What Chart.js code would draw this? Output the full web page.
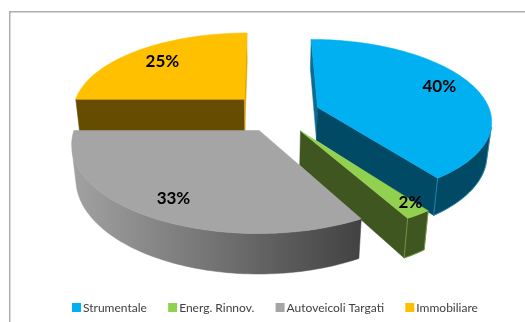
<!DOCTYPE html>
<html>
<head>
<meta charset="utf-8">
<title>Portafoglio</title>
<style>
  html, body { margin: 0; padding: 0; background: #fff; }
  canvas { display: block; }
</style>
<script src="https://cdn.jsdelivr.net/npm/chart.js@4"></script>
</head>
<body>
<canvas id="torta" width="525" height="322"></canvas>
<script>
const categories = ['Strumentale', 'Energ. Rinnov.', 'Autoveicoli Targati', 'Immobiliare'];
const quote = [40, 2, 33, 25];

const topColors = ['#00b0f0', '#92d050', '#a5a5a5', '#ffc000'];
const startFaceColors = ['#0a6c94', '#3f5621', '#666666', '#664c00'];
const endFaceColors = ['#004a66', '#3f5621', '#666666', '#d9a300'];
const wallLeftColors = ['#004a66', '#3f5621', '#a2a2a2', '#664c00'];
const wallRightColors = ['#004a66', '#3f5621', '#424242', '#664c00'];
const edgeColors = ['#2a8cb4', '#74a23c', null, null];
const explode = [25.5, 25, 24, 26.5];
const sliceScale = [1, 1.03, 1.04, 1];
const sliceNudge = [0, 0, 0.025, 0];

// posizione delle etichette: raggio e scarto d'angolo sul disco
const labelRadius = [0.8, 0.92, 0.84, 0.75];
const labelShift = [-0.04, -0.045, 0, 0];

// prospettiva del piano della torta
const VX = 265, VY = -450, SCALE_X = 171, SCALE_Y = 557, K = 0.139;
const DEPTH = 33, VERT_DIST = 1600;
const CENTER_U = 0.065, CENTER_V = 0.085;

function project(u, v, low) {
    const w = 1 - K * v;
    let x = VX + SCALE_X * u / w;
    let y = VY + SCALE_Y / w;
    if (low) {
        const dy = DEPTH / w;
        x -= (x - VX) * dy / VERT_DIST;
        y += dy;
    }
    return [x, y];
}

function polyArea(pts) {
    let a = 0;
    pts.forEach((p, i) => {
        const q = pts[(i + 1) % pts.length];
        a += p[0] * q[1] - q[0] * p[1];
    });
    return a;
}

function fillPoly(ctx, pts, style) {
    ctx.beginPath();
    pts.forEach((p, i) => i ? ctx.lineTo(p[0], p[1]) : ctx.moveTo(p[0], p[1]));
    ctx.closePath();
    ctx.fillStyle = style;
    ctx.strokeStyle = style;
    ctx.lineWidth = 0.5;
    ctx.fill();
    ctx.stroke();
}

function strokeLine(ctx, pts, style) {
    ctx.beginPath();
    pts.forEach((p, i) => i ? ctx.lineTo(p[0], p[1]) : ctx.moveTo(p[0], p[1]));
    ctx.strokeStyle = style;
    ctx.lineWidth = 0.8;
    ctx.stroke();
}

function sliceOrigin(arc, i) {
    const mid = (arc.startAngle + arc.endAngle) / 2;
    const e = arc.options.offset / 100;
    return [CENTER_U + sliceNudge[i] + e * Math.cos(mid), CENTER_V + e * Math.sin(mid)];
}

function drawSlice(ctx, arc, i) {
    const [cu, cv] = sliceOrigin(arc, i);
    const r = sliceScale[i];
    const steps = Math.max(4, Math.ceil((arc.endAngle - arc.startAngle) * 40));
    const ring = [[cu, cv]];
    for (let s = 0; s <= steps; s++) {
        const a = arc.startAngle + (arc.endAngle - arc.startAngle) * s / steps;
        ring.push([cu + r * Math.cos(a), cv + r * Math.sin(a)]);
    }
    const top = ring.map(p => project(p[0], p[1], false));
    const low = ring.map(p => project(p[0], p[1], true));
    const last = ring.length - 1;

    const xs = top.map(p => p[0]);
    const wall = ctx.createLinearGradient(Math.min(...xs), 0, Math.max(...xs), 0);
    wall.addColorStop(0, wallLeftColors[i]);
    wall.addColorStop(1, wallRightColors[i]);

    const visible = n => {
        const m = (n + 1) % ring.length;
        return polyArea([top[n], top[m], low[m], low[n]]) < 0;
    };

    // i due tagli radiali
    if (visible(0)) fillPoly(ctx, [top[0], top[1], low[1], low[0]], startFaceColors[i]);
    if (visible(last)) fillPoly(ctx, [top[last], top[0], low[0], low[last]], endFaceColors[i]);

    // parete esterna: un solo poligono per ogni tratto visibile
    let run = [];
    const flush = () => {
        if (!run.length) return;
        const first = run[0];
        const end = run[run.length - 1] + 1;
        const upper = top.slice(first, end + 1);
        const lower = low.slice(first, end + 1).reverse();
        fillPoly(ctx, upper.concat(lower), wall);
        if (edgeColors[i]) {
            strokeLine(ctx, lower, edgeColors[i]);
            strokeLine(ctx, [top[first], low[first]], edgeColors[i]);
            strokeLine(ctx, [top[end], low[end]], edgeColors[i]);
        }
        run = [];
    };
    for (let n = 1; n < last; n++) {
        if (visible(n)) run.push(n); else flush();
    }
    flush();

    fillPoly(ctx, top, arc.options.backgroundColor);
}

const torta3d = {
    id: 'torta3d',
    beforeDraw(chart) {
        // cornice del grafico
        const ctx = chart.ctx;
        ctx.save();
        ctx.strokeStyle = '#adadad';
        ctx.lineWidth = 1.5;
        ctx.beginPath();
        ctx.moveTo(9.75, 322);
        ctx.lineTo(9.75, 11.75);
        ctx.lineTo(525, 11.75);
        ctx.stroke();
        ctx.restore();
    },
    beforeDatasetDraw(chart, args) {
        const ctx = chart.ctx;
        const arcs = args.meta.data;
        const depth = arc => Math.sin((arc.startAngle + arc.endAngle) / 2);
        const order = arcs.map((a, i) => i).sort((p, q) => depth(arcs[p]) - depth(arcs[q]));
        ctx.save();
        order.forEach(i => drawSlice(ctx, arcs[i], i));

        // percentuali
        const total = quote.reduce((s, q) => s + q, 0);
        ctx.fillStyle = '#000';
        ctx.font = 'bold 17px Lato';
        ctx.textAlign = 'center';
        ctx.textBaseline = 'middle';
        arcs.forEach((arc, i) => {
            const [cu, cv] = sliceOrigin(arc, i);
            const mid = (arc.startAngle + arc.endAngle) / 2 + labelShift[i];
            const p = project(cu + labelRadius[i] * Math.cos(mid), cv + labelRadius[i] * Math.sin(mid), false);
            ctx.fillText(Math.round(quote[i] / total * 100) + '%', p[0], p[1]);
        });
        ctx.restore();
        return false;
    },
    afterDraw(chart) {
        // legenda in basso, quadratino attaccato al testo
        const ctx = chart.ctx;
        const items = chart.legend.legendItems;
        let x = 72;
        ctx.save();
        ctx.font = '12px Lato';
        ctx.textAlign = 'left';
        ctx.textBaseline = 'middle';
        items.forEach(item => {
            ctx.fillStyle = item.fillStyle;
            ctx.fillRect(x, 303, 9, 9);
            ctx.fillStyle = '#404040';
            ctx.fillText(item.text, x + 11, 308);
            x += 11 + ctx.measureText(item.text).width + 21.3;
        });
        ctx.restore();
    }
};

new Chart(document.getElementById('torta'), {
    type: 'pie',
    data: {
        labels: categories,
        datasets: [{
            data: quote,
            backgroundColor: topColors,
            offset: explode,
            borderWidth: 0
        }]
    },
    options: {
        responsive: false,
        animation: false,
        plugins: {
            tooltip: { enabled: false },
            legend: { display: false }
        }
    },
    plugins: [torta3d]
});
</script>
</body>
</html>
